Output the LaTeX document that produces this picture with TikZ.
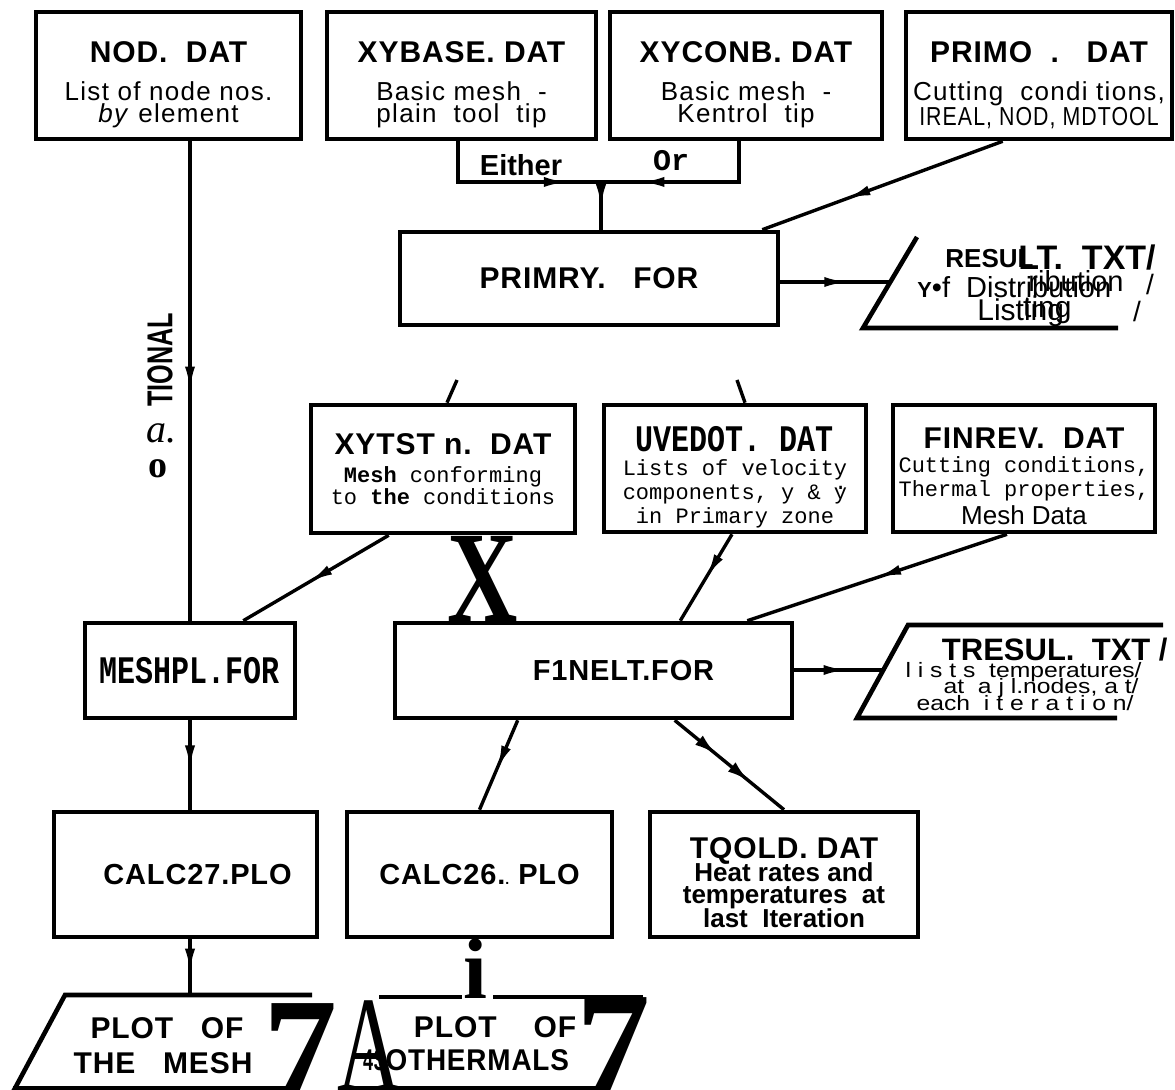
\documentclass[tikz,border=0pt]{standalone}
\usepackage{fontspec}
\setmainfont{Liberation Sans}
\newfontfamily\hsans{Liberation Sans}
\newfontfamily\hsansw[LetterSpace=5]{Liberation Sans}
\newfontfamily\hsanst[LetterSpace=3]{Liberation Sans}
\newfontfamily\hmono{Liberation Mono}
\newfontfamily\hserif{Liberation Serif}
\usetikzlibrary{arrows.meta,decorations.markings,calc}
\newcommand\fTitle{\hsanst\bfseries\fontsize{15}{17}\selectfont}
\newcommand\fBody{\hsansw\fontsize{13}{11}\selectfont}
\newcommand\fMono{\hmono\fontsize{11}{11}\selectfont}
\newcommand\fMonoTitle{\hmono\bfseries\fontsize{15}{17}\selectfont}
\newcommand\ydot{\ooalign{y\cr\hidewidth\raisebox{0.45em}{.}\hidewidth\cr}}
\begin{document}
\begin{tikzpicture}[x=0.5pt,y=-0.5pt,
  dbox/.style={draw, line width=2.3pt, inner sep=0pt, align=center, font=\fBody},
  conn/.style={line width=1.7pt},
  pline/.style={line width=2.3pt},
  midarr/.style={postaction={decorate},decoration={markings,mark=at position #1 with {\arrow{Latex[length=12pt,width=5pt]}}}},
  dblarr/.style={postaction={decorate},decoration={markings,
     mark=at position 0.38 with {\arrow{Latex[length=11pt,width=6pt]}},
     mark=at position 0.68 with {\arrow{Latex[length=11pt,width=6pt]}}}},
  bigglyph/.style={inner sep=0pt, anchor=north west},
  lbl/.style={inner sep=0pt},
]
\fill[white] (0,0) rectangle (1175,1090);
\useasboundingbox (0,0) rectangle (1175,1090);

% ---- top row
\node[dbox, minimum width=132.5pt, minimum height=63.5pt] (nod) at (168.5,75.5)
  {{\fTitle\rule{0pt}{20pt}NOD.~~DAT}\\[8pt] List of node nos.\\ \textit{by} element};
\node[dbox, minimum width=134.5pt, minimum height=63.5pt] (xyb) at (461.5,75.5)
  {{\fTitle\rule{0pt}{20pt}XYBASE.~DAT}\\[8pt] Basic mesh~ -\\ plain~ tool~ tip};
\node[dbox, minimum width=136pt, minimum height=63.5pt] (xyc) at (746,75.5)
  {{\fTitle\rule{0pt}{20pt}XYCONB.~DAT}\\[8pt] Basic mesh~ -\\ Kentrol~ tip};
\node[dbox, minimum width=133pt, minimum height=63.5pt] (primo) at (1039,75.5)
  {{\fTitle\rule{0pt}{20pt}PRIMO~~.~~~DAT}\\[8pt] Cutting~ condi tions,\\ \scalebox{0.82}[1]{IREAL, NOD, MDTOOL}};

% ---- either / or
\coordinate (eL) at (458,182);
\coordinate (eR) at (739,182);
\coordinate (jn) at (601,182);
\node[lbl, font=\hsans\bfseries\fontsize{14.5}{15}\selectfont] (either) at (521,165) {Either};
\node[lbl, font=\hmono\bfseries\fontsize{15}{15}\selectfont] (or) at (671,161) {Or};

% ---- PRIMRY
\node[dbox, minimum width=189pt, minimum height=46.5pt] (primry) at (589,278.5)
  {{\fTitle PRIMRY.~~~FOR}};

% ---- RESULT parallelogram
\draw[pline] (917,237) -- (863,328) -- (1118,328);
\coordinate (resin) at (890,282);
\node[lbl, anchor=west, font=\hsans\bfseries\fontsize{13}{13}\selectfont] (rs1) at (945,259) {RESUL};
\node[lbl, anchor=west, font=\hsans\bfseries\fontsize{17}{17}\selectfont] (rs2) at (1018,258) {LT.~~TXT/};
\node[lbl, anchor=west, font=\hsans\fontsize{14.5}{14.5}\selectfont] (rs3) at (917,287) {{\bfseries\scalebox{0.75}{Y}}\textbullet f~ Distribution};
\node[lbl, anchor=east, font=\hsans\fontsize{14.5}{14.5}\selectfont] (rs4) at (1124,281) {ribution};
\node[lbl, anchor=west, font=\hsans\fontsize{15}{15}\selectfont] (rs5) at (977,313) {Listing};
\node[lbl, anchor=east, font=\hsans\fontsize{15}{15}\selectfont] (rs6) at (1072,310) {ting};
\node[lbl, font=\hsans\fontsize{14}{14}\selectfont] (rs7) at (1150,284) {/};
\node[lbl, font=\hsans\fontsize{14}{14}\selectfont] (rs8) at (1137,311) {/};

% ---- second row
\node[dbox, minimum width=132pt, minimum height=64pt] (xytst) at (443,469)
  {{\fTitle XYTST n.~~DAT}\\[3pt] {\fMono\textbf{Mesh} conforming}\\ {\fMono to \textbf{the} conditions}};
\node[dbox, minimum width=131pt, minimum height=63.5pt] (uvedot) at (735,468.5)
  {{\fMonoTitle\rule{0pt}{21pt}\scalebox{1}[1.25]{UVEDOT.~DAT}}\\[1pt] {\fMono Lists of velocity}\\[1pt] {\fMono components, y \& \ydot}\\[1pt] {\fMono in Primary zone}};
\node[dbox, minimum width=131pt, minimum height=63.5pt] (finrev) at (1024,468.5)
  {{\fTitle\rule{0pt}{18pt}FINREV.~~DAT}\\[1pt] {\fMono Cutting conditions,}\\[1pt] {\fMono Thermal properties,}\\[1pt] {\hsans Mesh Data}};

% ---- left margin text
\node[lbl, rotate=90, font=\hsans\bfseries\fontsize{18}{18}\selectfont] (tional) at (160,360) {\scalebox{0.7}[1]{TIONAL}};
\node[lbl, font=\hserif\itshape\fontsize{20}{20}\selectfont] (ta) at (162,433) {a.};
\node[lbl, font=\hserif\bfseries\fontsize{19}{19}\selectfont] (to) at (158,469) {o};

% ---- big X
\node[lbl, font=\hserif\bfseries\fontsize{65}{65}\selectfont] (gX) at (483,579) {\scalebox{0.75}[1]{X}};

% ---- third row
\node[dbox, minimum width=105pt, minimum height=47.5pt] (meshpl) at (190,670.5)
  {{\fMonoTitle\scalebox{1}[1.3]{MESHPL.FOR}}};
\node[dbox, minimum width=198.5pt, minimum height=47.5pt] (f1nelt) at (593.5,670.5)
  {{\fTitle\fontsize{14.5}{15}\selectfont\hspace*{30pt}F1NELT.FOR}};

% ---- TRESUL parallelogram
\draw[pline] (1163,625) -- (908,625) -- (857,718) -- (1117,718);
\coordinate (tin) at (883,670);
\node[lbl, anchor=east, font=\hsans\bfseries\fontsize{15.5}{15.5}\selectfont] (ts1) at (1168,650) {TRESUL.~~TXT~/};
\node[lbl, anchor=east, font=\hsans\fontsize{13}{13}\selectfont] (ts2) at (1142,672) {\scalebox{0.95}[0.8]{l i s t s~~temperatures/}};
\node[lbl, anchor=east, font=\hsans\fontsize{13}{13}\selectfont] (ts3) at (1139,688) {\scalebox{0.95}[0.8]{at~ a j l.nodes, a t/}};
\node[lbl, anchor=east, font=\hsans\fontsize{13}{13}\selectfont] (ts4) at (1134,703) {\scalebox{0.95}[0.8]{each~ i t e r a t i o n/}};

% ---- fourth row
\node[dbox, minimum width=131.5pt, minimum height=62.5pt] (calc27) at (185.5,874.5)
  {{\fTitle\fontsize{14.5}{15}\selectfont\hspace*{12pt}CALC27.PLO}};
\node[dbox, minimum width=132.5pt, minimum height=62.5pt] (calc26) at (479.5,874.5)
  {{\fTitle\fontsize{14.5}{15}\selectfont CALC26.{\fontsize{7}{7}\selectfont.}~PLO}};
\node[dbox, minimum width=134pt, minimum height=62.5pt] (tqold) at (784,874.5)
  {{\fTitle\rule{0pt}{19pt}TQOLD.~DAT}\\[-2pt] {\hsans\bfseries Heat rates and}\\[0pt] {\hsans\bfseries temperatures~ at}\\[-1pt] {\hsans\bfseries last~ Iteration}};

% ---- bottom parallelograms
\draw[pline] (312,995) -- (65,995) -- (13,1092);
\draw[conn] (13,1088) -- (300,1088);
\coordinate (pmtop) at (190,995);
\node[lbl, font=\fTitle] (pm1) at (167,1028) {PLOT~~~OF};
\node[lbl, font=\fTitle] (pm2) at (163,1063) {THE~~~MESH};

\draw[pline] (379,997) -- (462,997);
\draw[pline] (493,997) -- (643,997);
\draw[conn] (345,1088) -- (600,1088);
\node[lbl, font=\fTitle] (it1) at (495,1027) {PLOT~~~~OF};
\node[lbl, font=\fTitle] (it2) at (466,1060) {\scalebox{0.6}[1]{4S}\scalebox{0.93}[1]{OTHERMALS}};

% ---- big stray glyphs
\node[bigglyph, font=\hserif\bfseries\fontsize{74}{74}\selectfont] (g7a) at (263,1003) {7};
\node[bigglyph, font=\hserif\fontsize{68}{68}\selectfont] (gA) at (337,1000) {\scalebox{0.65}[1]{A}};
\node[bigglyph, font=\hserif\bfseries\fontsize{43}{43}\selectfont] (gi) at (463,938) {i};
\node[bigglyph, font=\hserif\bfseries\fontsize{74}{74}\selectfont] (g7b) at (576,997) {7};

% ---- connectors
\draw[conn, midarr=0.82] (xyb.south -| eL) -- (eL) -- (jn);
\draw[conn, midarr=0.78] (xyc.south -| eR) -- (eR) -- (jn);
\draw[conn, midarr=0.55] (jn) -- (jn |- primry.north);
\draw[conn, midarr=0.65] ($(primo.south west)+(99,0)$) -- ($(primry.north east)+(-18,0)$);
\draw[conn, midarr=0.62] (resin -| primry.east) -- (resin);
\coordinate (p1) at (457,380);
\coordinate (p2) at (737,380);
\draw[conn] (p1) -- ($(xytst.north)+(4,0)$);
\draw[conn] (p2) -- ($(uvedot.north)+(10,0)$);
\draw[conn, midarr=0.52] (meshpl.north |- nod.south) -- (meshpl.north);
\draw[conn, midarr=0.55] ($(xytst.south west)+(80,0)$) -- ($(meshpl.north east)+(-54,0)$);
\draw[conn, midarr=0.5] ($(uvedot.south)+(-3,0)$) -- ($(f1nelt.north east)+(-114,0)$);
\draw[conn, midarr=0.5] ($(finrev.south)+(-17,0)$) -- ($(f1nelt.north east)+(-47,0)$);
\draw[conn, midarr=0.6] (tin -| f1nelt.east) -- (tin);
\draw[conn, midarr=0.55] (meshpl.south) -- (meshpl.south |- calc27.north);
\draw[conn, midarr=0.55] ($(f1nelt.south west)+(125,0)$) -- (calc26.north);
\draw[conn, dblarr] ($(f1nelt.south west)+(282,0)$) -- (tqold.north);
\draw[conn, midarr=0.6] (pmtop |- calc27.south) -- (pmtop);
\end{tikzpicture}
\end{document}
